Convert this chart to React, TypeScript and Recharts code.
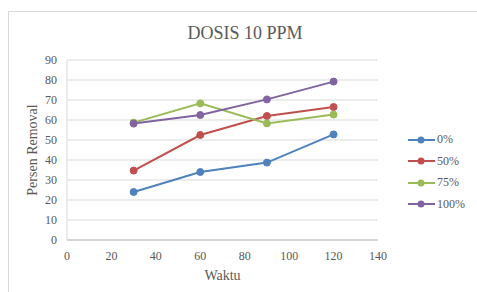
import { LineChart, Line, XAxis, YAxis, CartesianGrid } from "recharts"

const waktu = [30, 60, 90, 120]
const s0 = [24, 34, 38.7, 52.8]
const s50 = [34.7, 52.5, 62, 66.5]
const s75 = [58.7, 68.3, 58.3, 62.7]
const s100 = [58.2, 62.5, 70.3, 79.2]
const xTicks = [0, 20, 40, 60, 80, 100, 120, 140]
const yTicks = [0, 10, 20, 30, 40, 50, 60, 70, 80, 90]

const series = [
  { key: "p0", name: "0%", color: "#4F81BD", values: s0 },
  { key: "p50", name: "50%", color: "#C0504D", values: s50 },
  { key: "p75", name: "75%", color: "#9BBB59", values: s75 },
  { key: "p100", name: "100%", color: "#8064A2", values: s100 },
]

const data = waktu.map((w, i) => {
  const row: Record<string, number> = { waktu: w }
  series.forEach((s) => (row[s.key] = s.values[i]))
  return row
})

const font = "'Liberation Serif', serif"
const grey = "#595959"

function LegendBox() {
  return (
    <div style={{ position: "absolute", left: 408, top: 129, fontFamily: font, fontSize: 12, color: grey }}>
      {series.map((s) => (
        <div key={s.key} style={{ display: "flex", alignItems: "center", height: 21.5 }}>
          <svg width={28} height={10}>
            <line x1={0} y1={5} x2={27} y2={5} stroke={s.color} strokeWidth={2} />
            <circle cx={13} cy={5} r={3.5} fill={s.color} />
          </svg>
          <span style={{ marginLeft: 1 }}>{s.name}</span>
        </div>
      ))}
    </div>
  )
}

export default function App() {
  return (
    <div style={{ position: "relative", width: 477, height: 292, overflow: "hidden", background: "#fff" }}>
      <style>{"body{margin:0}"}</style>
      <div style={{ position: "absolute", left: 8, top: 11, width: 500, height: 300, border: "1px solid #d9d9d9" }} />
      <div style={{ position: "absolute", left: 0, width: 490, top: 23, textAlign: "center", fontFamily: font, fontSize: 18, color: grey }}>
        DOSIS 10 PPM
      </div>
      <div style={{ position: "absolute", left: 0, width: 445, top: 268, textAlign: "center", fontFamily: font, fontSize: 14, color: grey }}>
        Waktu
      </div>
      <div
        style={{
          position: "absolute",
          left: 33,
          top: 150,
          transform: "translate(-50%, -50%) rotate(-90deg)",
          whiteSpace: "nowrap",
          fontFamily: font,
          fontSize: 14,
          color: grey,
        }}
      >
        Persen Removal
      </div>
      <div style={{ position: "absolute", left: 0, top: 0 }}>
        <LineChart width={477} height={292} data={data} margin={{ top: 60, right: 99, bottom: 0, left: 0 }}>
          <CartesianGrid vertical={false} stroke="#d9d9d9" />
          <XAxis
            dataKey="waktu"
            type="number"
            domain={[0, 140]}
            ticks={xTicks}
            interval={0}
            tickLine={false}
            stroke="#bfbfbf"
            tick={{ fill: grey, fontSize: 12, fontFamily: font }}
            tickSize={0}
            tickMargin={11}
            height={52}
          />
          <YAxis
            domain={[0, 90]}
            ticks={yTicks}
            interval={0}
            width={67}
            tickLine={false}
            stroke="#d9d9d9"
            tick={{ fill: grey, fontSize: 12, fontFamily: font }}
            tickSize={0}
            tickMargin={10}
          />
          {series.map((s) => (
            <Line
              key={s.key}
              dataKey={s.key}
              name={s.name}
              stroke={s.color}
              strokeWidth={2}
              dot={{ r: 3.5, fill: s.color, stroke: s.color, strokeWidth: 1 }}
              isAnimationActive={false}
            />
          ))}
        </LineChart>
      </div>
      <LegendBox />
    </div>
  )
}
